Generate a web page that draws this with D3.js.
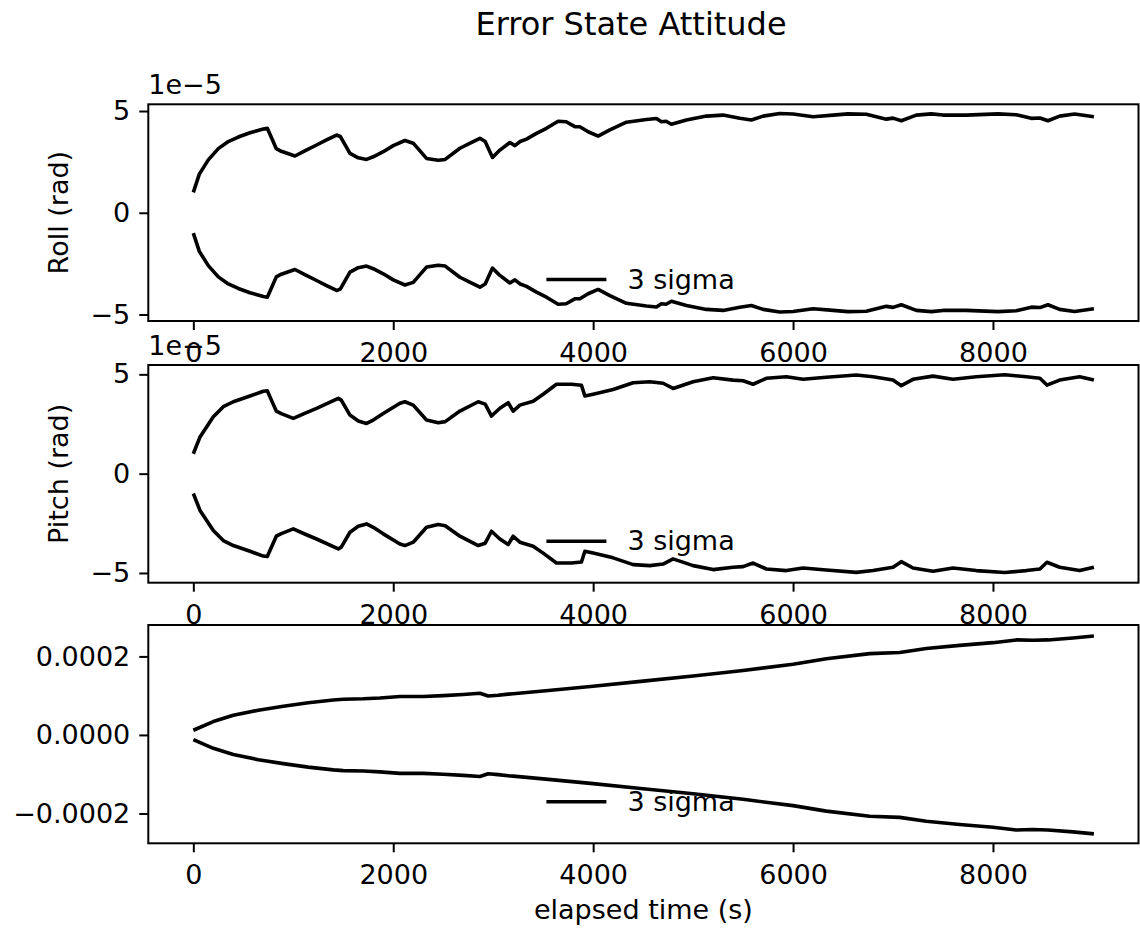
<!DOCTYPE html>
<html>
<head>
<meta charset="utf-8">
<script src="https://cdn.jsdelivr.net/npm/d3@7"></script>
<style>
  body { margin: 0; background: #fff; }
  text { font-family: "DejaVu Sans", sans-serif; fill: #000; }
</style>
</head>
<body>
<div id="chart"></div>
<script>
// 3 sigma bounds, values in units of 1e-5 rad
const rollTime = [0, 60, 150, 250, 350, 450, 567, 700, 740, 790, 830, 880, 1017, 1120, 1233, 1333, 1433, 1470, 1567, 1650, 1733, 1800, 1900, 2000, 2117, 2200, 2333, 2450, 2520, 2667, 2780, 2867, 2920, 2993, 3067, 3167, 3217, 3270, 3333, 3433, 3533, 3650, 3730, 3817, 3867, 3950, 4050, 4167, 4333, 4533, 4633, 4683, 4730, 4783, 4933, 5133, 5300, 5467, 5583, 5700, 5867, 6000, 6200, 6400, 6550, 6733, 6933, 7000, 7083, 7233, 7383, 7500, 7733, 8050, 8233, 8383, 8470, 8550, 8667, 8817, 9010];
const rollSigma = [1.0, 1.9, 2.6, 3.15, 3.5, 3.72, 3.93, 4.12, 4.15, 3.6, 3.15, 3.02, 2.79, 3.05, 3.33, 3.58, 3.82, 3.75, 2.92, 2.7, 2.62, 2.75, 3.0, 3.3, 3.55, 3.42, 2.67, 2.58, 2.62, 3.17, 3.45, 3.66, 3.5, 2.72, 3.08, 3.45, 3.3, 3.5, 3.62, 3.9, 4.15, 4.5, 4.47, 4.23, 4.23, 3.98, 3.77, 4.07, 4.45, 4.58, 4.63, 4.47, 4.5, 4.35, 4.56, 4.75, 4.8, 4.64, 4.56, 4.75, 4.88, 4.85, 4.72, 4.8, 4.86, 4.84, 4.6, 4.65, 4.52, 4.8, 4.86, 4.8, 4.8, 4.86, 4.82, 4.64, 4.66, 4.52, 4.75, 4.85, 4.72];

const pitchTime = [0, 67, 200, 300, 400, 567, 700, 740, 790, 830, 880, 1000, 1120, 1233, 1450, 1480, 1567, 1650, 1733, 1800, 1900, 2067, 2117, 2200, 2333, 2450, 2520, 2667, 2850, 2920, 2983, 3067, 3150, 3200, 3267, 3400, 3500, 3633, 3783, 3883, 3917, 4000, 4200, 4400, 4567, 4700, 4800, 5000, 5200, 5400, 5500, 5600, 5733, 5933, 6100, 6333, 6633, 6800, 7000, 7083, 7200, 7400, 7600, 7833, 8117, 8333, 8470, 8540, 8667, 8867, 9010];
const pitchSigma = [1.0, 1.85, 2.86, 3.37, 3.62, 3.91, 4.15, 4.17, 3.6, 3.15, 3.02, 2.78, 3.05, 3.29, 3.79, 3.7, 2.95, 2.65, 2.53, 2.7, 3.03, 3.54, 3.62, 3.45, 2.7, 2.56, 2.62, 3.15, 3.62, 3.5, 2.9, 3.29, 3.57, 3.15, 3.45, 3.65, 4.0, 4.5, 4.5, 4.45, 3.91, 4.0, 4.24, 4.58, 4.63, 4.55, 4.29, 4.63, 4.83, 4.71, 4.68, 4.5, 4.8, 4.88, 4.75, 4.85, 4.97, 4.88, 4.71, 4.43, 4.75, 4.91, 4.75, 4.88, 4.98, 4.88, 4.8, 4.46, 4.71, 4.88, 4.71];

const yawTime = [0, 200, 400, 650, 900, 1150, 1400, 1500, 1700, 1867, 2067, 2300, 2500, 2700, 2867, 2950, 3050, 3150, 3200, 3500, 4000, 4500, 5000, 5500, 6000, 6333, 6767, 7067, 7333, 7667, 8000, 8233, 8400, 8550, 8800, 9010];
const yawSigma = [1.2, 3.4, 5.0, 6.3, 7.3, 8.2, 8.9, 9.1, 9.2, 9.4, 9.8, 9.8, 10.0, 10.3, 10.6, 9.9, 10.1, 10.4, 10.5, 11.2, 12.4, 13.7, 15.0, 16.4, 18.0, 19.4, 20.7, 21.0, 22.0, 22.8, 23.5, 24.2, 24.1, 24.2, 24.7, 25.2];

const xTicks = [0, 2000, 4000, 6000, 8000];
const attTicks = [-5, 0, 5];
const yawTicks = [-20, 0, 20];

const width = 1140, height = 933;
const plotLeft = 148.3, plotRight = 1138.5;
const tickFont = "27px";

const panels = [
  {time: rollTime, sigma: rollSigma, top: 104.3, bottom: 321, domain: [-5.32, 5.33],
   ticks: attTicks, fmt: d3.format("d"), label: "Roll (rad)", offset: "1e\u22125"},
  {time: pitchTime, sigma: pitchSigma, top: 365, bottom: 582.7, domain: [-5.49, 5.47],
   ticks: attTicks, fmt: d3.format("d"), label: "Pitch (rad)", offset: "1e\u22125"},
  {time: yawTime, sigma: yawSigma, top: 625, bottom: 843.3, domain: [-27.6, 28.0],
   ticks: yawTicks, fmt: d => d3.format(".4f")(d * 1e-5), label: null, offset: null}
];

const svg = d3.select("#chart")
  .append("svg")
  .attr("width", width)
  .attr("height", height);

svg.append("rect").attr("width", width).attr("height", height).attr("fill", "#fff");

// x scale shared by all three panels (matplotlib adds 5% margins)
const x = d3.scaleLinear()
  .domain([-450.5, 9456])
  .range([plotLeft, plotRight]);

const cx = (plotLeft + plotRight) / 2;

panels.forEach(p => {
  const y = d3.scaleLinear().domain(p.domain).range([p.bottom, p.top]);

  const xAxis = d3.axisBottom(x).tickValues(xTicks).tickFormat(d3.format("d"))
    .tickSize(9).tickPadding(13);
  const yAxis = d3.axisLeft(y).tickValues(p.ticks).tickFormat(p.fmt)
    .tickSize(9).tickPadding(9);

  const gx = svg.append("g").attr("transform", "translate(0," + p.bottom + ")").call(xAxis);
  const gy = svg.append("g").attr("transform", "translate(" + plotLeft + ",0)").call(yAxis);
  [gx, gy].forEach(g => {
    g.select(".domain").remove();
    g.selectAll(".tick line").attr("stroke", "#000").attr("stroke-width", 2);
    g.selectAll(".tick text").attr("fill", "#000")
      .style("font-family", "'DejaVu Sans', sans-serif").style("font-size", tickFont);
  });

  // lines: +3 sigma and -3 sigma
  const line = d3.line()
    .x(d => x(d[0]))
    .y(d => y(d[1]));
  const upper = p.time.map((t, i) => [t, p.sigma[i]]);
  const lower = p.time.map((t, i) => [t, -p.sigma[i]]);

  svg.append("g").selectAll("path")
    .data([upper, lower])
    .join("path")
    .attr("d", line)
    .attr("fill", "none")
    .attr("stroke", "#000")
    .attr("stroke-width", 3.6)
    .attr("stroke-linejoin", "round");

  // frame
  svg.append("rect")
    .attr("x", plotLeft).attr("y", p.top)
    .attr("width", plotRight - plotLeft).attr("height", p.bottom - p.top)
    .attr("fill", "none").attr("stroke", "#000").attr("stroke-width", 2);

  // legend (no frame)
  const ly = p.bottom - 41.5;
  svg.append("line")
    .attr("x1", cx - 97).attr("x2", cx - 37)
    .attr("y1", ly).attr("y2", ly)
    .attr("stroke", "#000").attr("stroke-width", 3.6);
  svg.append("text")
    .attr("x", cx - 16).attr("y", ly + 9)
    .style("font-size", tickFont)
    .text("3 sigma");

  if (p.offset) {
    svg.append("text")
      .attr("x", plotLeft).attr("y", p.top - 10.5)
      .style("font-size", tickFont)
      .text(p.offset);
  }
  if (p.label) {
    svg.append("text")
      .attr("transform", "translate(68," + ((p.top + p.bottom) / 2) + ") rotate(-90)")
      .attr("text-anchor", "middle")
      .style("font-size", tickFont)
      .text(p.label);
  }
});

svg.append("text")
  .attr("x", cx).attr("y", 919)
  .attr("text-anchor", "middle")
  .style("font-size", tickFont)
  .text("elapsed time (s)");

svg.append("text")
  .attr("x", 631).attr("y", 35)
  .attr("text-anchor", "middle")
  .style("font-size", "32px")
  .text("Error State Attitude");
</script>
</body>
</html>
